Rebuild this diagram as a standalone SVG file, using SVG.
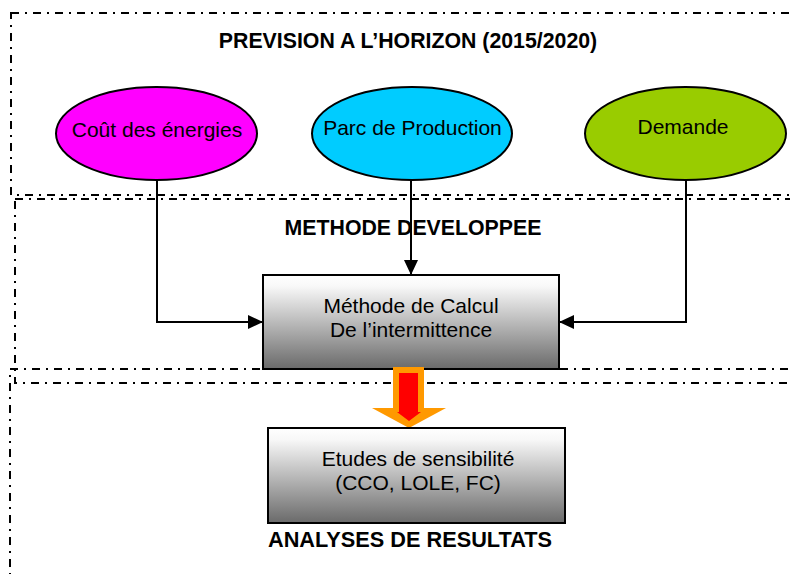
<svg xmlns="http://www.w3.org/2000/svg" width="790" height="574" viewBox="0 0 790 574">
<style>
.zone{fill:none;stroke:#000;stroke-width:2;stroke-dasharray:8 6 2 6}
.title{font-family:"Liberation Sans",Arial,sans-serif;font-size:21.3px;font-weight:bold;fill:#000;text-anchor:middle}
.lbl{font-family:"Liberation Sans",Arial,sans-serif;font-size:21px;fill:#000;text-anchor:middle}
.ell{stroke:#000;stroke-width:2}
.box{fill:url(#grad);stroke:#000;stroke-width:2}
.con{fill:none;stroke:#000;stroke-width:2}
</style>
<defs>
<linearGradient id="grad" x1="0" y1="0" x2="0" y2="1">
<stop offset="0" stop-color="#ffffff"/>
<stop offset="0.12" stop-color="#f8f8f8"/>
<stop offset="1" stop-color="#6a6a6a"/>
</linearGradient>
<marker id="arr" viewBox="0 0 15 14" refX="15" refY="7" markerWidth="15" markerHeight="14" markerUnits="userSpaceOnUse" orient="auto">
<path d="M0,0 L15,7 L0,14 z" fill="#000"/>
</marker>
</defs>
<rect width="790" height="574" fill="#fff"/>
<g id="zones">
<rect class="zone" x="11" y="13" width="800" height="182"/>
<rect class="zone" x="15" y="199" width="800" height="184"/>
<rect class="zone" x="10" y="369" width="800" height="300"/>
</g>
<text class="title" x="408" y="48">PREVISION A L’HORIZON (2015/2020)</text>
<text class="title" x="413" y="235">METHODE DEVELOPPEE</text>
<text class="title" x="410" y="547" textLength="284" lengthAdjust="spacingAndGlyphs">ANALYSES DE RESULTATS</text>
<g id="connectors">
<path class="con" d="M157,180 V322 H263" marker-end="url(#arr)"/>
<path class="con" d="M411,180 V275" marker-end="url(#arr)"/>
<path class="con" d="M686,180 V322 H559" marker-end="url(#arr)"/>
</g>
<g id="cout">
<ellipse class="ell" cx="156.5" cy="133.5" rx="100.5" ry="46.5" fill="#ff00ff"/>
<text class="lbl" x="157" y="137">Coût des énergies</text>
</g>
<g id="parc">
<ellipse class="ell" cx="412" cy="133.5" rx="100" ry="46.5" fill="#00ccff"/>
<text class="lbl" x="412.5" y="135">Parc de Production</text>
</g>
<g id="demande">
<ellipse class="ell" cx="685.5" cy="133.5" rx="100.5" ry="46.5" fill="#99cc00"/>
<text class="lbl" x="683" y="134">Demande</text>
</g>
<g id="methode">
<rect class="box" x="263" y="275" width="296" height="94"/>
<text class="lbl" x="411" y="313">Méthode de Calcul</text>
<text class="lbl" x="411" y="337">De l’intermittence</text>
</g>
<g id="fleche">
<polygon points="393,367 424,367 424,408 446,408 409,428 372,408 393,408" fill="#ff9900"/>
<polygon points="399,373 418,373 418,412 421,412 409,421 397,412 399,412" fill="#ff0000"/>
</g>
<g id="etudes">
<rect class="box" x="268" y="428" width="297" height="95"/>
<text class="lbl" x="418" y="466">Etudes de sensibilité</text>
<text class="lbl" x="418" y="490">(CCO, LOLE, FC)</text>
</g>
</svg>
